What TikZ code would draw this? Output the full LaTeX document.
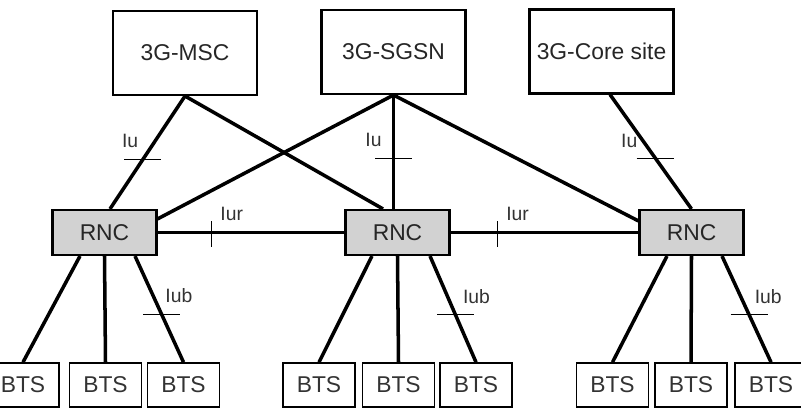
\documentclass[tikz,border=0pt]{standalone}
\usepackage{fontspec}
\setmainfont{Liberation Sans}
\usetikzlibrary{positioning,calc}

\begin{document}
\begin{tikzpicture}[semithick,
  	corenet/.style={rectangle,draw=black,line width=1.2pt,minimum width=2.88cm,minimum height=1.68cm,inner sep=0pt,text=black!85,font=\fontsize{13}{15}\selectfont},
  	rnc/.style={rectangle,draw=black,line width=1.2pt,fill=gray!35,minimum width=2.08cm,minimum height=0.9cm,inner sep=0pt,text=black!85,font=\fontsize{13}{15}\selectfont},
  	bts/.style={rectangle,draw=black,line width=0.9pt,minimum width=1.44cm,minimum height=0.88cm,inner sep=0pt,text=black!80,font=\fontsize{13}{15}\selectfont},
  	link/.style={line width=2pt},
  	iurlink/.style={line width=1.2pt},
  	iface/.style={text=black!80,font=\fontsize{11}{13}\selectfont,inner sep=0pt},
  	tickmark/.style={line width=0.6pt}]
  	\clip (0,0) rectangle (16.02,8.18);
  	\node[corenet] at (3.70,7.12) (msc) {3G-MSC};
	\node[corenet] at (7.87,7.14) (sgsn) {3G-SGSN};
	\node[corenet] at (12.03,7.15) (core) {3G-Core site};
	\node[rnc] at (2.09,3.53) (rncA) {RNC};
	\node[rnc] at (7.95,3.53) (rncB) {RNC};
	\node[rnc] at (13.83,3.53) (rncC) {RNC};
	\node[bts] at (0.46,0.48) (btsA1) {BTS}; \node[bts] at (2.11,0.48) (btsA2) {BTS}; \node[bts] at (3.67,0.48) (btsA3) {BTS};
	\node[bts] at (6.38,0.48) (btsB1) {BTS}; \node[bts] at (7.97,0.48) (btsB2) {BTS}; \node[bts] at (9.52,0.48) (btsB3) {BTS};
	\node[bts] at (12.25,0.48) (btsC1) {BTS}; \node[bts] at (13.82,0.48) (btsC2) {BTS}; \node[bts] at (15.42,0.48) (btsC3) {BTS};
	\draw[link] (msc.south) -- ([xshift=0.11cm]rncA.north) coordinate[pos=0.565] (iuA);
	\draw[link] (msc.south) -- ([xshift=-0.29cm]rncB.north);
	\draw[link] (sgsn.south) -- ([yshift=-0.2cm]rncA.north east);
	\draw[link] (sgsn.south) -- (sgsn.south |- rncB.north) coordinate[pos=0.56] (iuB);
	\draw[link] (sgsn.south) -- ([yshift=-0.24cm]rncC.north west);
	\draw[link] ([xshift=0.17cm]core.south) -- (rncC.north) coordinate[pos=0.555] (iuC);
	\draw[iurlink] (rncA.east) -- (rncB.west) coordinate[pos=0.29] (iurA);
	\draw[iurlink] (rncB.east) -- (rncC.west) coordinate[pos=0.25] (iurB);
	\draw[link] ([xshift=-0.49cm]rncA.south) -- (btsA1.north);
	\draw[link] (rncA.south) -- (btsA2.north);
	\draw[link] ([xshift=0.61cm]rncA.south) -- (btsA3.north) coordinate[pos=0.555] (iubA);
	\draw[link] ([xshift=-0.51cm]rncB.south) -- (btsB1.north);
	\draw[link] (rncB.south) -- (btsB2.north);
	\draw[link] ([xshift=0.65cm]rncB.south) -- (btsB3.north) coordinate[pos=0.555] (iubB);
	\draw[link] ([xshift=-0.49cm]rncC.south) -- (btsC1.north);
	\draw[link] (rncC.south) -- (btsC2.north);
	\draw[link] ([xshift=0.61cm]rncC.south) -- (btsC3.north) coordinate[pos=0.555] (iubC);
	\foreach \t in {iuA,iuB,iuC,iubA,iubB,iubC}
	  \draw[tickmark] ([xshift=-0.37cm]\t) -- ([xshift=0.37cm]\t);
	\foreach \t in {iurA,iurB}
	  \draw[tickmark] ([yshift=0.22cm]\t) -- ([yshift=-0.3cm]\t);
	\node[iface] at ($(iuA)+(-0.25,0.38)$) (lblIuA) {Iu};
	\node[iface] at ($(iuB)+(-0.40,0.38)$) (lblIuB) {Iu};
	\node[iface] at ($(iuC)+(-0.52,0.34)$) (lblIuC) {Iu};
	\node[iface] at ($(iurA)+(0.40,0.38)$) (lblIurA) {Iur};
	\node[iface] at ($(iurB)+(0.40,0.38)$) (lblIurB) {Iur};
	\node[iface] at ($(iubA)+(0.34,0.38)$) (lblIubA) {Iub};
	\node[iface] at ($(iubB)+(0.42,0.36)$) (lblIubB) {Iub};
	\node[iface] at ($(iubC)+(0.38,0.36)$) (lblIubC) {Iub};
    \end{tikzpicture}
\end{document}
